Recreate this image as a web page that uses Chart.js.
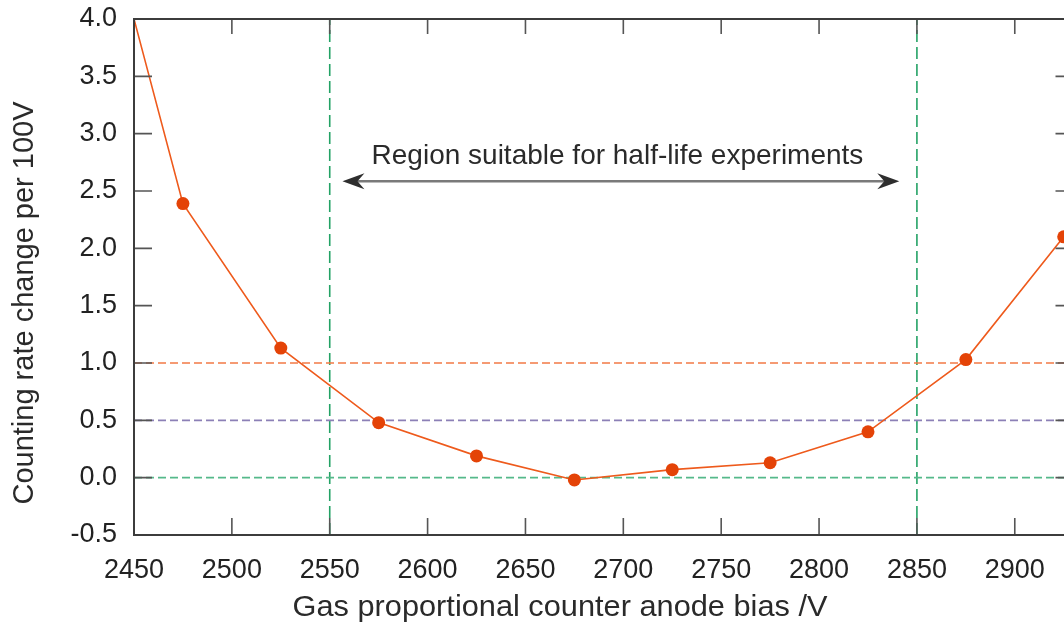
<!DOCTYPE html>
<html lang="en">
<head>
<meta charset="UTF-8">
<title>Counting rate change per 100V</title>
<script src="https://cdn.jsdelivr.net/npm/chart.js"></script>
<style>
  html, body { margin: 0; padding: 0; background: #fff; overflow: hidden; }
  .wrap { position: relative; width: 1080px; height: 632px; }
</style>
</head>
<body>
<div class="wrap"><canvas id="plateau"></canvas></div>
<script>
// anode bias (V) vs counting rate change per 100 V
var biasVolts = [2425, 2475, 2525, 2575, 2625, 2675, 2725, 2775, 2825, 2875, 2925];
var rateChange = [5.61, 2.39, 1.13, 0.48, 0.19, -0.02, 0.07, 0.13, 0.40, 1.03, 2.10];
var xTicks = [2450, 2500, 2550, 2600, 2650, 2700, 2750, 2800, 2850, 2900];
var yTicks = [-0.5, 0, 0.5, 1, 1.5, 2, 2.5, 3, 3.5, 4];
var refLevels = [1.0, 0.5, 0.0];
var regionBounds = [2550, 2850];

var xMin = 2450, xMax = 2930, yMin = -0.5, yMax = 4;
var font = '"Liberation Sans", Arial, sans-serif';
var refColors = ['#f27a46', '#8c80b6', '#55b98a'];

var datasets = [{
    data: biasVolts.map(function (v, i) { return { x: v, y: rateChange[i] }; }),
    borderColor: '#ee5a1c',
    backgroundColor: '#e44307',
    borderWidth: 1.6,
    pointRadius: 6.5,
    pointBorderWidth: 0,
    clip: 0
}];
refLevels.forEach(function (lvl, i) {
    datasets.push({
        data: [{ x: xMin, y: lvl }, { x: xMax, y: lvl }],
        borderColor: refColors[i], borderWidth: 1.6, borderDash: [8, 4], pointRadius: 0
    });
});
regionBounds.forEach(function (b) {
    datasets.push({
        data: [{ x: b, y: yMin }, { x: b, y: yMax }],
        borderColor: '#23a265', borderWidth: 1.6, borderDash: [12, 5], pointRadius: 0
    });
});

// box around the plot, inward ticks on all sides, arrow note and axis titles
var decor = {
    id: 'decor',
    afterDatasetsDraw: function (chart) {
        var ctx = chart.ctx, a = chart.chartArea;
        var xs = chart.scales.x, ys = chart.scales.y;
        ctx.save();
        ctx.strokeStyle = '#555';
        ctx.lineWidth = 1.6;
        xTicks.forEach(function (v) {
            var px = xs.getPixelForValue(v);
            ctx.beginPath();
            ctx.moveTo(px, a.bottom); ctx.lineTo(px, a.bottom - 17);
            ctx.moveTo(px, a.top); ctx.lineTo(px, a.top + 15);
            ctx.stroke();
        });
        yTicks.forEach(function (v) {
            var py = ys.getPixelForValue(v);
            ctx.beginPath();
            ctx.moveTo(a.left, py); ctx.lineTo(a.left + 18, py);
            ctx.moveTo(a.right, py); ctx.lineTo(a.right - 18, py);
            ctx.stroke();
        });
        ctx.strokeStyle = '#3c3c3c';
        ctx.lineWidth = 2;
        ctx.strokeRect(a.left, a.top, a.right - a.left, a.bottom - a.top);

        // double arrow over the usable region
        var y = ys.getPixelForValue(2.585);
        var x1 = xs.getPixelForValue(2556.5), x2 = xs.getPixelForValue(2841);
        ctx.strokeStyle = '#7a7a7a';
        ctx.lineWidth = 2.5;
        ctx.beginPath(); ctx.moveTo(x1 + 12, y); ctx.lineTo(x2 - 12, y); ctx.stroke();
        ctx.fillStyle = '#2e2e2e';
        [[x1, 1], [x2, -1]].forEach(function (h) {
            ctx.beginPath();
            ctx.moveTo(h[0], y);
            ctx.lineTo(h[0] + h[1] * 22, y - 8);
            ctx.lineTo(h[0] + h[1] * 15, y);
            ctx.lineTo(h[0] + h[1] * 22, y + 8);
            ctx.closePath();
            ctx.fill();
        });
        ctx.fillStyle = '#2a2a2a';
        ctx.font = '28px ' + font;
        ctx.textAlign = 'center';
        ctx.textBaseline = 'alphabetic';
        ctx.fillText('Region suitable for half-life experiments', xs.getPixelForValue(2697), y - 17);
        ctx.restore();
    },
    afterDraw: function (chart) {
        var ctx = chart.ctx;
        ctx.save();
        ctx.fillStyle = '#2a2a2a';
        ctx.font = '29px ' + font;
        ctx.textAlign = 'center';
        ctx.textBaseline = 'middle';
        ctx.save();
        ctx.translate(560, 608);
        ctx.scale(1.06, 1);
        ctx.fillText('Gas proportional counter anode bias /V', 0, 0);
        ctx.restore();
        ctx.translate(25, 303);
        ctx.rotate(-Math.PI / 2);
        ctx.fillText('Counting rate change per 100V', 0, 0);
        ctx.restore();
    }
};

new Chart(document.getElementById('plateau'), {
    type: 'line',
    data: { datasets: datasets },
    options: {
        responsive: true,
        maintainAspectRatio: false,
        animation: false,
        layout: { padding: { top: 19, right: 4, left: 0, bottom: 0 } },
        plugins: { legend: { display: false }, tooltip: { enabled: false } },
        scales: {
            x: {
                type: 'linear', min: xMin, max: xMax,
                grid: { display: false, drawTicks: false },
                border: { display: false },
                afterBuildTicks: function (s) { s.ticks = xTicks.map(function (v) { return { value: v }; }); },
                afterFit: function (s) { s.height = 97; s.paddingLeft = 0; s.paddingRight = 0; },
                ticks: {
                    font: { size: 27, family: font }, color: '#222', padding: 19,
                    maxRotation: 0, autoSkip: false,
                    callback: function (v) { return String(v); }
                }
            },
            y: {
                type: 'linear', min: yMin, max: yMax,
                grid: { display: false, drawTicks: false },
                border: { display: false },
                afterBuildTicks: function (s) { s.ticks = yTicks.map(function (v) { return { value: v }; }); },
                afterFit: function (s) { s.width = 134; s.paddingTop = 0; s.paddingBottom = 0; },
                ticks: {
                    font: { size: 27, family: font }, color: '#222', padding: 17,
                    callback: function (v) { return v.toFixed(1); }
                }
            }
        }
    },
    plugins: [decor]
});
</script>
</body>
</html>
